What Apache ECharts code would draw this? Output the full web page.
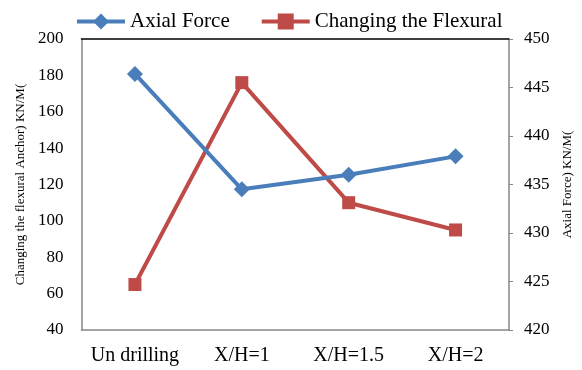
<!DOCTYPE html>
<html>
<head>
<meta charset="utf-8">
<script src="https://cdn.jsdelivr.net/npm/echarts@6/dist/echarts.min.js"></script>
<style>
  html, body { margin: 0; padding: 0; background: #fff; }
  #chart { width: 582px; height: 370px; }
</style>
</head>
<body>
<div id="chart"></div>
<script>
// Cases compared along the horizontal axis
const categories = ['Un drilling', 'X/H=1', 'X/H=1.5', 'X/H=2'];
// Axial force, read on the right axis (KN/M)
const axialForce = [446.4, 434.5, 436.0, 437.9];
// Changing the flexural anchor, read on the left axis (KN/M)
const flexural = [65, 176, 110, 95];
// Axis ranges and tick steps
const leftAxis = { min: 40, max: 200, step: 20 };
const rightAxis = { min: 420, max: 450, step: 5 };

const serif = 'Liberation Serif, Times New Roman, serif';
const axisGray = '#868686';

const chart = echarts.init(document.getElementById('chart'), null, { renderer: 'canvas' });
chart.setOption({
  animation: false,
  backgroundColor: '#ffffff',
  legend: {
    top: 6,
    left: 70,
    itemWidth: 48,
    itemHeight: 20,
    itemGap: 30,
    lineStyle: { width: 4 },
    textStyle: { fontFamily: serif, fontSize: 21, color: '#000' },
    data: ['Axial Force', 'Changing the Flexural']
  },
  grid: { left: 81.5, right: 69, top: 39, bottom: 40 },
  xAxis: [
    {
      type: 'category',
      data: categories,
      boundaryGap: true,
      axisLine: { lineStyle: { color: axisGray, width: 1.5 } },
      axisTick: { show: false },
      axisLabel: { fontFamily: serif, fontSize: 20, color: '#000', margin: 16, interval: 0 }
    },
    {
      type: 'category',
      position: 'top',
      data: categories,
      axisLine: { lineStyle: { color: '#000', width: 1.5 } },
      axisTick: { show: false },
      axisLabel: { show: false }
    }
  ],
  yAxis: [
    {
      type: 'value',
      min: leftAxis.min, max: leftAxis.max, interval: leftAxis.step,
      name: 'Changing the flexural Anchor) KN/M(',
      nameLocation: 'middle',
      nameGap: 53,
      nameRotate: 90,
      nameTextStyle: { fontFamily: serif, fontSize: 13, color: '#000' },
      axisLine: { show: true, lineStyle: { color: axisGray, width: 1.5 } },
      axisTick: { show: false },
      splitLine: { show: false },
      axisLabel: { fontFamily: serif, fontSize: 17, color: '#000', margin: 18 }
    },
    {
      type: 'value',
      position: 'right',
      min: rightAxis.min, max: rightAxis.max, interval: rightAxis.step,
      name: 'Axial Force) KN/M(',
      nameLocation: 'middle',
      nameGap: 52,
      nameRotate: 90,
      nameTextStyle: { fontFamily: serif, fontSize: 13, color: '#000' },
      axisLine: { show: true, lineStyle: { color: axisGray, width: 1.5 } },
      axisTick: { show: true, length: 4, lineStyle: { color: axisGray } },
      splitLine: { show: false },
      axisLabel: { fontFamily: serif, fontSize: 17, color: '#000', margin: 15 }
    }
  ],
  series: [
    {
      name: 'Axial Force',
      type: 'line',
      yAxisIndex: 1,
      data: axialForce,
      symbol: 'diamond',
      symbolSize: 16,
      itemStyle: { color: '#4A7EBB' },
      lineStyle: { color: '#4A7EBB', width: 4 },
      z: 3
    },
    {
      name: 'Changing the Flexural',
      type: 'line',
      yAxisIndex: 0,
      data: flexural,
      symbol: 'rect',
      symbolSize: 13,
      itemStyle: { color: '#BE4B48' },
      lineStyle: { color: '#BE4B48', width: 4 },
      z: 2
    }
  ]
});
</script>
</body>
</html>
